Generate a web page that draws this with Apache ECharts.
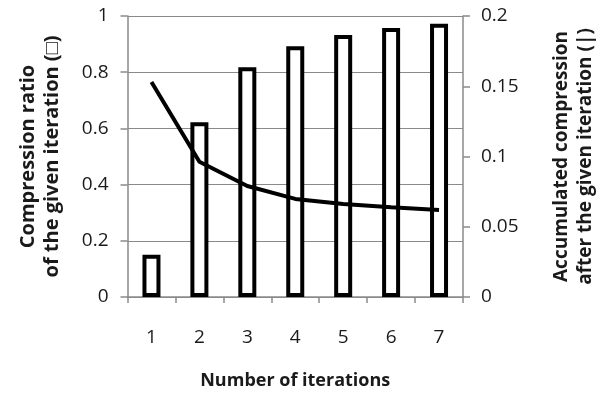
<!DOCTYPE html>
<html>
<head>
<meta charset="utf-8">
<script src="https://cdn.jsdelivr.net/npm/echarts@6/dist/echarts.min.js"></script>
<style>html,body{margin:0;padding:0;background:#fff}#c{width:601px;height:401px}</style>
</head>
<body>
<div id="c"></div>
<script>
const categories = ['1','2','3','4','5','6','7'];
const ratioValues = [0.15, 0.622, 0.818, 0.892, 0.932, 0.957, 0.972];
const accumValues = [0.153, 0.0963, 0.079, 0.0698, 0.0662, 0.0638, 0.0619];
const leftTicks = {min: 0, max: 1, interval: 0.2};
const rightTicks = {min: 0, max: 0.2, interval: 0.05};

const font = '"Open Sans", sans-serif';
const grey = '#8a8a8a';
const txt = '#1a1a1a';
const chart = echarts.init(document.getElementById('c'), null, {renderer: 'canvas'});
chart.setOption({
  animation: false,
  backgroundColor: '#fff',
  grid: {left: 127.5, right: 138, top: 16, bottom: 104, containLabel: false, outerBoundsMode: 'none'},
  xAxis: {
    type: 'category', data: categories,
    name: 'Number of iterations', nameLocation: 'middle', nameGap: 75,
    nameTextStyle: {fontFamily: font, fontSize: 18, fontWeight: 'bold', color: txt},
    axisLine: {lineStyle: {color: grey, width: 1.5}},
    axisTick: {show: true, alignWithLabel: false, length: 6, lineStyle: {color: grey, width: 1.5}},
    axisLabel: {fontFamily: font, fontSize: 19, color: txt, margin: 31}
  },
  yAxis: [{
    type: 'value', min: leftTicks.min, max: leftTicks.max, interval: leftTicks.interval,
    name: 'Compression ratio\nof the given iteration (\u25A1)', nameLocation: 'middle', nameGap: 63, nameRotate: 90,
    nameTextStyle: {fontFamily: font, fontSize: 20, fontWeight: 'bold', color: txt, lineHeight: 24},
    axisLine: {show: true, lineStyle: {color: grey, width: 1.5}},
    axisTick: {show: true, inside: false, length: 7, lineStyle: {color: grey, width: 1.5}},
    axisLabel: {fontFamily: font, fontSize: 19, color: txt, margin: 19, formatter: v => String(+v.toFixed(2))},
    splitLine: {show: true, lineStyle: {color: grey, width: 1.2}}
  }, {
    type: 'value', min: rightTicks.min, max: rightTicks.max, interval: rightTicks.interval,
    name: 'Accumulated compression\nafter the given iteration (|)', nameLocation: 'middle', nameGap: 87, nameRotate: 90,
    nameTextStyle: {fontFamily: font, fontSize: 19, fontWeight: 'bold', color: txt, lineHeight: 24},
    axisLine: {show: true, lineStyle: {color: grey, width: 1.5}},
    axisTick: {show: true, inside: false, length: 7, lineStyle: {color: grey, width: 1.5}},
    axisLabel: {fontFamily: font, fontSize: 19, color: txt, margin: 18, formatter: v => String(+v.toFixed(2))},
    splitLine: {show: false}
  }],
  series: [{
    type: 'bar', data: ratioValues, yAxisIndex: 0, barWidth: 18,
    itemStyle: {color: '#fff', borderColor: '#000', borderWidth: 4}
  }, {
    type: 'line', data: accumValues, yAxisIndex: 1, showSymbol: false, symbol: 'none',
    lineStyle: {color: '#000', width: 4}
  }]
});
</script>
</body>
</html>
